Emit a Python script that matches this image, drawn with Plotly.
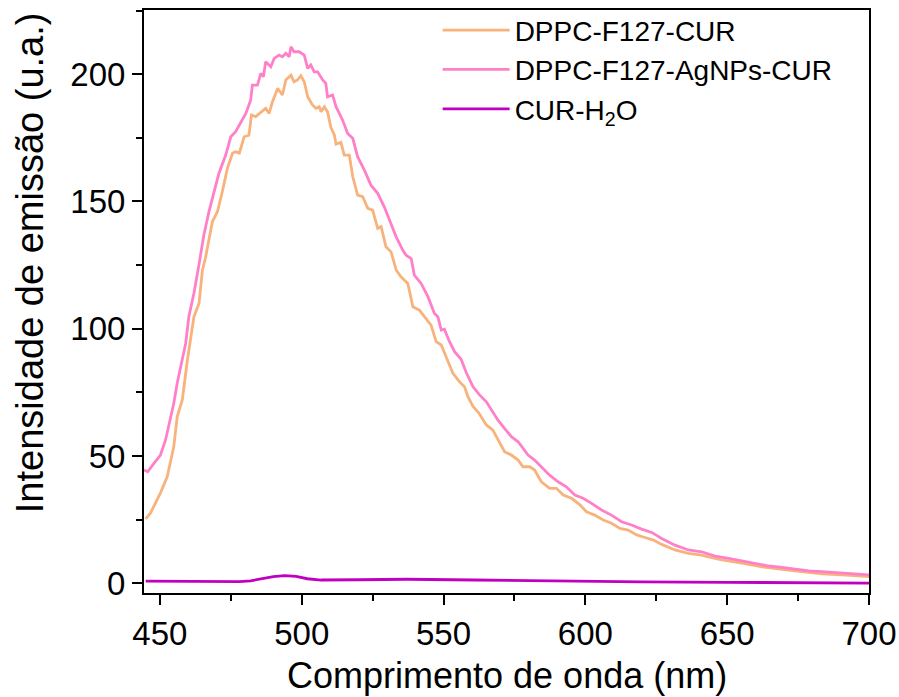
import plotly.graph_objects as go

# DPPC-F127-CUR
wl_cur = [445.0, 446.7, 450.2, 452.6, 454.9, 456.1, 457.9, 459.7, 462.0, 463.8, 465.0, 466.1,
          468.5, 470.3, 472.0, 473.8, 475.6, 476.7, 478.0, 479.7, 481.4, 482.3, 483.8, 485.6,
          487.3, 488.5, 489.7, 491.5, 493.2, 494.4, 496.2, 497.3, 498.5, 499.7, 500.9, 502.1,
          503.8, 505.0, 506.2, 506.8, 508.0, 509.1, 510.3, 511.5, 512.1, 513.8, 515.0, 516.8,
          518.0, 519.7, 521.5, 523.3, 525.0, 526.8, 528.0, 529.7, 531.5, 533.3, 535.0, 537.4,
          539.2, 541.5, 543.3, 545.6, 547.4, 549.2, 550.9, 553.3, 555.6, 557.4, 558.6, 560.4,
          562.4, 565.1, 567.4, 569.2, 571.5, 573.9, 576.3, 578.0, 580.4, 582.1, 584.5, 587.4,
          589.8, 592.2, 595.1, 598.1, 600.4, 603.3, 606.3, 609.2, 612.2, 615.1, 618.1, 621.0,
          624.0, 626.9, 631.6, 636.3, 641.0, 643.4, 648.1, 655.2, 662.3, 669.3, 676.4, 683.4,
          690.5, 700.0]
int_cur = [25.3, 27.6, 35.5, 41.9, 53.7, 65.4, 72.0, 87.7, 104.7, 110.0, 123.0, 128.0,
           142.0, 146.0, 153.8, 163.0, 168.9, 169.5, 169.0, 175.4, 176.0, 184.0, 183.3, 185.2,
           186.6, 184.6, 189.2, 194.4, 191.8, 197.7, 199.6, 197.0, 197.7, 199.4, 197.0, 191.1,
           187.9, 186.6, 187.2, 185.2, 187.2, 185.2, 179.0, 176.1, 172.5, 173.2, 168.2, 168.2,
           159.7, 152.5, 151.9, 147.3, 146.6, 139.4, 140.1, 132.2, 130.2, 123.1, 120.4, 117.8,
           108.6, 107.3, 104.7, 101.4, 94.9, 93.6, 89.0, 82.5, 79.2, 77.2, 73.3, 69.5,
           67.0, 62.2, 60.2, 56.3, 51.7, 50.4, 48.4, 45.8, 45.8, 44.5, 39.9, 37.3,
           37.3, 34.7, 33.4, 30.8, 28.1, 26.8, 24.9, 23.6, 21.6, 20.9, 19.0, 18.0,
           17.0, 15.3, 13.1, 11.8, 11.1, 10.4, 9.2, 7.9, 6.5, 5.5, 4.6, 3.7,
           3.3, 2.6]

# DPPC-F127-AgNPs-CUR
wl_ag = [444.4, 445.7, 447.9, 450.2, 452.0, 453.8, 454.9, 456.1, 457.9, 459.1, 460.2, 462.0,
         463.8, 465.5, 467.3, 469.1, 470.8, 473.2, 475.0, 476.7, 478.5, 480.3, 482.0, 482.6,
         484.4, 485.6, 486.5, 487.3, 489.1, 490.3, 492.0, 493.2, 494.4, 495.6, 496.2, 497.3,
         499.1, 500.9, 502.1, 503.2, 504.4, 505.6, 507.4, 508.5, 509.1, 510.9, 512.1, 513.8,
         514.4, 516.2, 518.0, 519.7, 522.1, 524.4, 526.8, 529.1, 531.5, 533.3, 535.6, 536.8,
         538.6, 539.7, 542.1, 544.5, 546.8, 548.0, 549.2, 550.3, 552.1, 553.9, 556.2, 558.0,
         560.4, 562.7, 565.1, 566.8, 569.2, 571.5, 573.9, 576.3, 578.0, 579.8, 582.1, 584.5,
         587.4, 590.4, 593.3, 596.3, 599.2, 602.2, 605.7, 609.2, 612.8, 616.3, 619.8, 623.4,
         626.9, 631.6, 636.3, 641.0, 645.7, 650.5, 655.2, 659.9, 664.6, 669.3, 674.0, 678.8,
         683.4, 688.2, 692.9, 700.0]
int_ag = [44.5, 43.8, 47.1, 50.4, 56.3, 65.4, 70.7, 78.6, 87.7, 94.3, 104.7, 113.9,
          125.3, 136.8, 146.0, 153.8, 161.0, 168.2, 175.4, 177.4, 181.3, 184.6, 189.8, 195.7,
          195.7, 200.3, 199.0, 204.9, 202.9, 206.2, 207.5, 206.8, 208.2, 206.8, 210.8, 208.8,
          208.8, 207.5, 202.3, 203.6, 200.9, 200.9, 197.7, 196.4, 191.1, 191.8, 187.2, 183.3,
          182.0, 176.7, 174.8, 167.6, 162.3, 156.4, 153.2, 147.9, 141.4, 136.1, 130.9, 128.9,
          127.6, 121.1, 117.8, 112.6, 106.0, 104.7, 99.5, 99.8, 94.9, 91.0, 88.0, 82.8,
          77.2, 74.0, 71.3, 68.1, 64.1, 60.9, 57.6, 55.6, 53.0, 50.4, 48.4, 45.8,
          42.5, 39.9, 37.9, 34.7, 33.4, 31.4, 28.8, 26.8, 24.2, 22.9, 21.3, 20.0,
          17.6, 15.0, 13.1, 12.4, 10.7, 9.8, 8.9, 7.9, 6.8, 6.3, 5.5, 4.9,
          4.6, 4.2, 3.9, 3.3]

# CUR-H2O
wl_h2o = [445, 455, 465, 472.5, 478, 482, 486, 490, 494, 498, 502, 506.8, 520, 537, 561,
          583, 600, 620, 650, 680, 700]
int_h2o = [0.9, 0.8, 0.6, 0.5, 0.7, 1.0, 1.7, 2.6, 3.0, 2.7, 1.8, 1.3, 1.4, 1.6, 1.3,
           1.0, 0.8, 0.6, 0.4, 0.2, 0.1]

names = ["DPPC-F127-CUR", "DPPC-F127-AgNPs-CUR", "CUR-H<sub>2</sub>O"]
colors = ["#F8B27C", "#FF80C8", "#C000C0"]
x_title = "Comprimento de onda (nm)"
y_title = "Intensidade de emissão (u.a.)"

FONT = "Liberation Sans, Arial, sans-serif"

fig = go.Figure()
for xs, ys, nm, c in [(wl_cur, int_cur, names[0], colors[0]),
                      (wl_ag, int_ag, names[1], colors[1]),
                      (wl_h2o, int_h2o, names[2], colors[2])]:
    fig.add_trace(go.Scatter(x=xs, y=ys, mode="lines", name=nm,
                             line=dict(color=c, width=2.8)))

axis_common = dict(showline=True, linecolor="black", linewidth=2, mirror=True,
                   ticks="outside", ticklen=10, tickwidth=2, tickcolor="black",
                   showgrid=False, zeroline=False, automargin=False,
                   tickfont=dict(family=FONT, size=33, color="black"))

fig.update_layout(
    width=899, height=697,
    margin=dict(l=144, r=30, t=10, b=104, autoexpand=False),
    paper_bgcolor="white", plot_bgcolor="white",
    font=dict(family=FONT, color="black"),
    xaxis=dict(range=[444.4, 700], dtick=50, tick0=450,
               minor=dict(dtick=25, tick0=450, ticks="outside", ticklen=6, tickwidth=2, tickcolor="black"),
               **axis_common),
    yaxis=dict(range=[-3.8, 225.2], dtick=50, tick0=0,
               minor=dict(dtick=25, tick0=0, ticks="outside", ticklen=6, tickwidth=2, tickcolor="black"),
               **axis_common),
    legend=dict(x=0.405, y=1.008, xanchor="left", yanchor="top",
                font=dict(family=FONT, size=28, color="black"),
                bgcolor="rgba(0,0,0,0)", borderwidth=0, itemwidth=67,
                tracegroupgap=0),
    showlegend=True,
    annotations=[
        dict(text=x_title, xref="paper", yref="paper", x=0.5, y=-0.1407,
             xanchor="center", yanchor="middle", showarrow=False,
             font=dict(family=FONT, size=36, color="black")),
        dict(text=y_title, xref="paper", yref="paper", x=-0.157, y=0.566,
             xanchor="center", yanchor="middle", showarrow=False, textangle=-90,
             font=dict(family=FONT, size=38, color="black")),
    ],
)

# remove the default 8px page margin so the 899x697 figure fills the window exactly
fig.write_html("out.html",
               config={"displayModeBar": False},
               post_script="document.body.style.margin='0';document.body.style.overflow='hidden';")
